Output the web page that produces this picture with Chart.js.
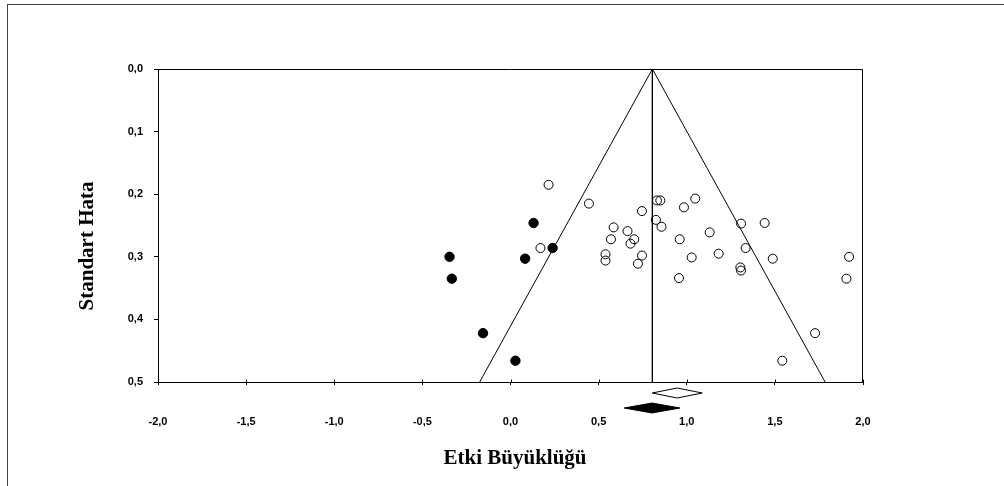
<!DOCTYPE html>
<html>
<head>
<meta charset="utf-8">
<script src="https://cdn.jsdelivr.net/npm/chart.js@4.4.1/dist/chart.umd.min.js"></script>
<style>
  html, body { margin: 0; padding: 0; background: #fff; }
  #wrap { position: relative; width: 1004px; height: 486px; overflow: hidden; }
  #frame { position: absolute; left: 7px; top: 4px; right: 0; bottom: 0;
           border-top: 1px solid #444; border-left: 1px solid #444; }
  #c { position: absolute; left: 0; top: 0; }
</style>
</head>
<body>
<div id="wrap"><div id="frame"></div><canvas id="c" width="1004" height="486"></canvas></div>
<script>
// Observed studies: effect size (x) and standard error (y)
const observedEffect = [0.216, 0.445, 0.170, 0.585, 0.570, 0.539, 0.539, 0.664, 0.702, 0.681,
                        0.746, 0.746, 0.723, 0.831, 0.850, 0.825, 0.857, 0.984, 1.048, 0.960,
                        1.028, 0.956, 1.130, 1.181, 1.308, 1.442, 1.334, 1.488, 1.304, 1.308,
                        1.921, 1.906, 1.728, 1.542];
const observedSE     = [0.185, 0.215, 0.286, 0.253, 0.272, 0.296, 0.306, 0.259, 0.272, 0.279,
                        0.227, 0.298, 0.311, 0.210, 0.210, 0.241, 0.252, 0.221, 0.207, 0.272,
                        0.301, 0.334, 0.261, 0.295, 0.247, 0.246, 0.286, 0.303, 0.317, 0.322,
                        0.300, 0.335, 0.422, 0.466];

// Imputed (trim-and-fill) studies
const imputedEffect = [-0.346, -0.333, -0.156, 0.028, 0.083, 0.131, 0.239];
const imputedSE     = [0.300, 0.335, 0.422, 0.466, 0.303, 0.246, 0.286];

// Funnel: apex at the pooled effect, 95% limits at SE = 0.5
const funnelCenter = 0.805;
const funnelLeftAtBase = -0.175;
const funnelRightAtBase = 1.785;
const funnelBaseSE = 0.5;

// Summary diamonds: [lower, estimate, upper]
const observedSummary = [0.804, 0.946, 1.088];
const adjustedSummary = [0.645, 0.803, 0.961];

// Axis ticks
const xTickValues = [-2, -1.5, -1, -0.5, 0, 0.5, 1, 1.5, 2];
const xTickLabels = ['-2,0', '-1,5', '-1,0', '-0,5', '0,0', '0,5', '1,0', '1,5', '2,0'];
const yTickValues = [0, 0.1, 0.2, 0.3, 0.4, 0.5];
const yTickLabels = ['0,0', '0,1', '0,2', '0,3', '0,4', '0,5'];

const xTitle = 'Etki Büyüklüğü';
const yTitle = 'Standart Hata';

const toPoints = (xs, ys) => xs.map((x, i) => ({ x: x, y: ys[i] }));

const tickFont = { family: '"Liberation Sans", Arial, sans-serif', size: 11, weight: 'bold' };
const titleFont = 'bold 21px "Liberation Serif", "Times New Roman", serif';

const lineStyle = { showLine: true, borderColor: '#000', borderWidth: 1, pointRadius: 0,
                    pointHoverRadius: 0, fill: false, tension: 0 };

const extras = {
  id: 'funnelExtras',
  afterDraw(chart) {
    const ctx = chart.ctx;
    const area = chart.chartArea;
    const xs = chart.scales.x;
    ctx.save();
    ctx.strokeStyle = '#000';
    ctx.lineWidth = 1;

    // top and right edges of the plot box
    ctx.beginPath();
    ctx.moveTo(Math.round(area.left) + 0.5, Math.round(area.top) + 0.5);
    ctx.lineTo(Math.round(area.right) - 0.5, Math.round(area.top) + 0.5);
    ctx.lineTo(Math.round(area.right) - 0.5, Math.round(area.bottom) + 0.5);
    ctx.stroke();

    // inner half of the x tick marks
    const yb = Math.round(area.bottom) + 0.5;
    xs.ticks.forEach(t => {
      const px = Math.round(xs.getPixelForValue(t.value)) + 0.5;
      ctx.beginPath();
      ctx.moveTo(px, yb - 3);
      ctx.lineTo(px, yb);
      ctx.stroke();
    });

    // summary diamonds under the axis
    const diamond = (vals, cy, filled) => {
      const l = xs.getPixelForValue(vals[0]);
      const c = xs.getPixelForValue(vals[1]);
      const r = xs.getPixelForValue(vals[2]);
      ctx.beginPath();
      ctx.moveTo(l, cy);
      ctx.lineTo(c, cy - 5);
      ctx.lineTo(r, cy);
      ctx.lineTo(c, cy + 5);
      ctx.closePath();
      ctx.fillStyle = filled ? '#000' : '#fff';
      ctx.fill();
      ctx.stroke();
    };
    diamond(observedSummary, area.bottom + 11, false);
    diamond(adjustedSummary, area.bottom + 26, true);

    // axis titles
    ctx.fillStyle = '#000';
    ctx.font = titleFont;
    ctx.textAlign = 'center';
    ctx.textBaseline = 'middle';
    ctx.fillText(xTitle, 515, 459);
    ctx.translate(88, 246);
    ctx.rotate(-Math.PI / 2);
    ctx.fillText(yTitle, 0, 0);
    ctx.restore();
  }
};

new Chart(document.getElementById('c'), {
  type: 'scatter',
  data: {
    datasets: [
      { ...lineStyle, data: [{ x: funnelCenter, y: 0 }, { x: funnelLeftAtBase, y: funnelBaseSE }] },
      { ...lineStyle, data: [{ x: funnelCenter, y: 0 }, { x: funnelRightAtBase, y: funnelBaseSE }] },
      { ...lineStyle, data: [{ x: funnelCenter, y: 0 }, { x: funnelCenter, y: funnelBaseSE }] },
      { data: toPoints(observedEffect, observedSE), pointStyle: 'circle', pointRadius: 4.5,
        pointHoverRadius: 4.5, backgroundColor: 'rgba(0,0,0,0)', borderColor: '#000', borderWidth: 1 },
      { data: toPoints(imputedEffect, imputedSE), pointStyle: 'circle', pointRadius: 4.7,
        pointHoverRadius: 4.7, backgroundColor: '#000', borderColor: '#000', borderWidth: 1 }
    ]
  },
  options: {
    responsive: false,
    animation: false,
    devicePixelRatio: 1,
    layout: { padding: { top: 69, right: 141, left: 0, bottom: 0 } },
    plugins: { legend: { display: false }, tooltip: { enabled: false }, title: { display: false } },
    scales: {
      x: {
        type: 'linear', min: -2, max: 2,
        afterFit(s) { s.height = 104; },
        afterBuildTicks(s) { s.ticks = xTickValues.map(v => ({ value: v })); },
        ticks: { color: '#000', font: tickFont, padding: 30, maxRotation: 0,
                 callback: (v, i) => xTickLabels[i] },
        grid: { drawOnChartArea: false, drawTicks: true, tickLength: 3, color: '#000' },
        border: { color: '#000', width: 1 }
      },
      y: {
        type: 'linear', min: 0, max: 0.5, reverse: true,
        afterFit(s) { s.width = 158; },
        afterBuildTicks(s) { s.ticks = yTickValues.map(v => ({ value: v })); },
        ticks: { color: '#000', font: tickFont, padding: 11,
                 callback: (v, i) => yTickLabels[i] },
        grid: { drawOnChartArea: false, drawTicks: true, tickLength: 4, color: '#000' },
        border: { color: '#000', width: 1 }
      }
    }
  },
  plugins: [extras]
});
</script>
</body>
</html>
